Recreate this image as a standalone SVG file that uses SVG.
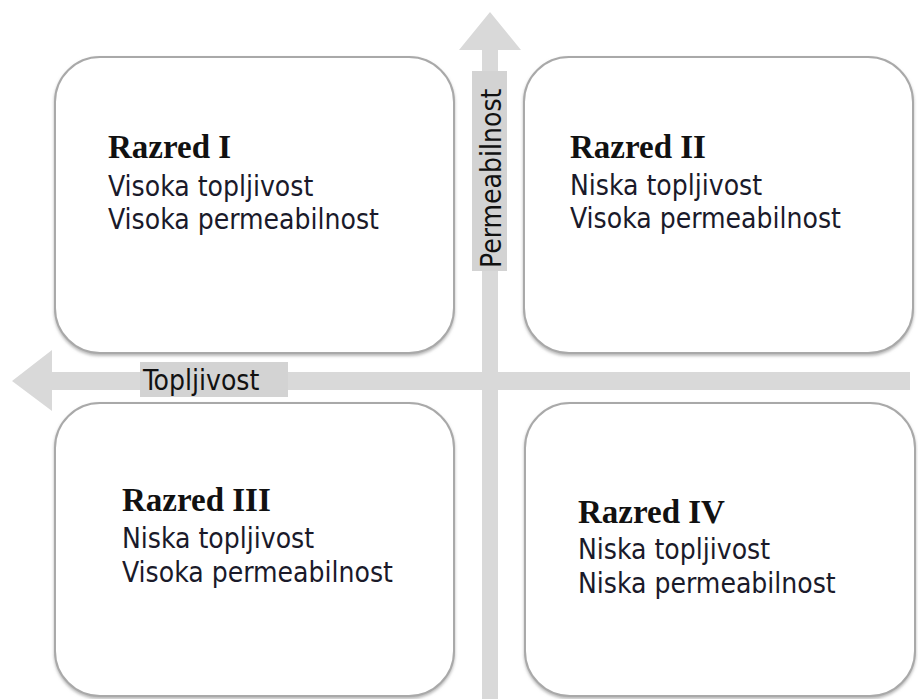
<svg xmlns="http://www.w3.org/2000/svg" width="918" height="699" viewBox="0 0 918 699">
<defs>
<filter id="sh" x="-5%" y="-5%" width="110%" height="112%">
<feDropShadow dx="0" dy="2" stdDeviation="1.5" flood-color="#888" flood-opacity="0.6"/>
</filter>
<style>
.box{fill:#fff;stroke:#a9a9a9;stroke-width:2;filter:url(#sh)}
.arrow{fill:#d9d9d9}
.lab{fill:#d3d3d3}
.title{font-family:"Liberation Serif",serif;font-weight:bold;font-size:33px;fill:#111}
.body{font-family:"DejaVu Sans Condensed","DejaVu Sans",sans-serif;font-size:28px;fill:#1a1a2a}
.axis{font-family:"DejaVu Sans Condensed","DejaVu Sans",sans-serif;font-size:28px;fill:#111}
</style>
</defs>
<rect width="918" height="699" fill="#fff"/>
<g id="connectors">
<g id="axis-permeabilnost">
<polygon class="arrow" points="490,12 521,50 498,50 498,699 482,699 482,50 459,50"/>
<rect class="lab" x="472" y="71" width="35" height="200"/>
<text class="axis" transform="translate(501,268) rotate(-90)">Permeabilnost</text>
</g>
<g id="axis-topljivost">
<polygon class="arrow" points="12,381 52,350 52,372 910,372 910,390 52,390 52,411"/>
<rect class="lab" x="140" y="362" width="148" height="35"/>
<text class="axis" x="143" y="390">Topljivost</text>
</g>
</g>
<g id="razred-1">
<rect class="box" x="55" y="57" width="399" height="296" rx="45"/>
<text class="title" x="108" y="158">Razred I</text>
<text class="body" x="108" y="196">Visoka topljivost</text>
<text class="body" x="108" y="229">Visoka permeabilnost</text>
</g>
<g id="razred-2">
<rect class="box" x="524" y="57" width="389" height="296" rx="45"/>
<text class="title" x="570" y="158">Razred II</text>
<text class="body" x="570" y="195">Niska topljivost</text>
<text class="body" x="570" y="228">Visoka permeabilnost</text>
</g>
<g id="razred-3">
<rect class="box" x="55" y="403" width="399" height="293" rx="45"/>
<text class="title" x="122" y="511">Razred III</text>
<text class="body" x="122" y="548">Niska topljivost</text>
<text class="body" x="122" y="582">Visoka permeabilnost</text>
</g>
<g id="razred-4">
<rect class="box" x="525" y="403" width="390" height="293" rx="45"/>
<text class="title" x="578" y="523">Razred IV</text>
<text class="body" x="578" y="559">Niska topljivost</text>
<text class="body" x="578" y="593">Niska permeabilnost</text>
</g>
</svg>
